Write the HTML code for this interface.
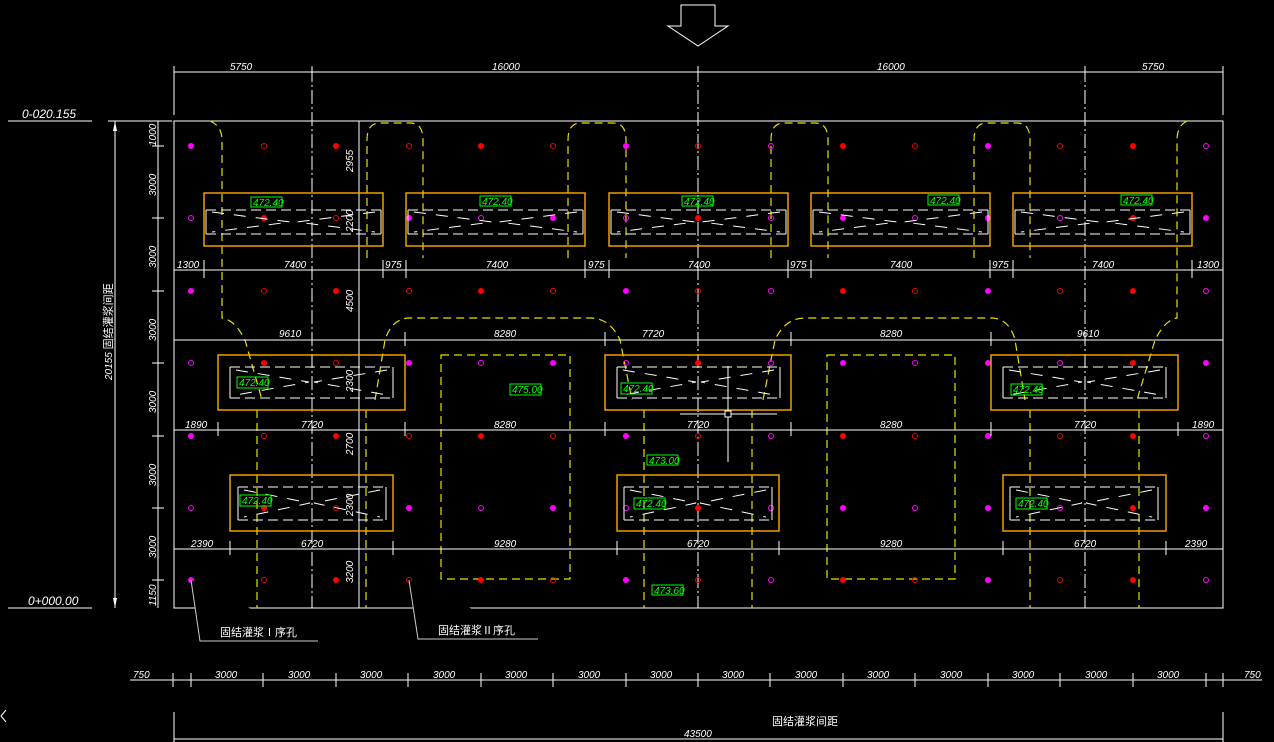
<!DOCTYPE html>
<html><head><meta charset="utf-8"><style>
html,body{margin:0;padding:0;background:#000;}
svg{display:block}
text{font-family:"Liberation Sans","Noto Sans CJK SC",sans-serif;font-style:italic;fill:#fff;font-size:10px}
.g{fill:#0f0;font-size:10px}
.cn{font-style:normal;font-size:11px}
</style></head><body>
<svg width="1274" height="742" viewBox="0 0 1274 742" xmlns="http://www.w3.org/2000/svg">
<defs>
<g id="dotrow">
<circle cx="191" r="3" fill="#f0f"/><circle cx="264" r="2.5" fill="none" stroke="#e00"/><circle cx="336" r="3" fill="#f00"/><circle cx="409" r="2.5" fill="none" stroke="#e00"/><circle cx="481" r="3" fill="#f00"/><circle cx="553" r="2.5" fill="none" stroke="#e00"/><circle cx="626" r="3" fill="#f0f"/><circle cx="698" r="2.5" fill="none" stroke="#e00"/><circle cx="771" r="2.5" fill="none" stroke="#f0f"/><circle cx="843" r="3" fill="#f00"/><circle cx="915" r="2.5" fill="none" stroke="#e00"/><circle cx="988" r="3" fill="#f0f"/><circle cx="1060" r="2.5" fill="none" stroke="#e00"/><circle cx="1133" r="3" fill="#f00"/><circle cx="1206" r="2.5" fill="none" stroke="#f0f"/>
</g>
<g id="dotrow2">
<circle cx="191" r="2.5" fill="none" stroke="#f0f"/><circle cx="264" r="3" fill="#f00"/><circle cx="336" r="2.5" fill="none" stroke="#e00"/><circle cx="409" r="3" fill="#f0f"/><circle cx="481" r="2.5" fill="none" stroke="#f0f"/><circle cx="553" r="3" fill="#f0f"/><circle cx="626" r="2.5" fill="none" stroke="#f0f"/><circle cx="698" r="3" fill="#f00"/><circle cx="771" r="2.5" fill="none" stroke="#f0f"/><circle cx="843" r="3" fill="#f0f"/><circle cx="915" r="2.5" fill="none" stroke="#f0f"/><circle cx="988" r="3" fill="#f0f"/><circle cx="1060" r="2.5" fill="none" stroke="#f0f"/><circle cx="1133" r="3" fill="#f00"/><circle cx="1206" r="3" fill="#f0f"/>
</g>
</defs>

<path d="M681 5 H715 V26 H728 L698 46 L668 26 H681 Z" fill="none" stroke="#fff"/>

<rect x="174" y="121" width="1049" height="487" fill="none" stroke="#fff"/>

<g stroke="#fff" stroke-dasharray="14 3 2 3" stroke-width="1">
<line x1="312" y1="68" x2="312" y2="608"/><line x1="698" y1="68" x2="698" y2="608"/><line x1="1085" y1="68" x2="1085" y2="608"/>
</g>
<line x1="359" y1="121" x2="359" y2="608" stroke="#fff"/>

<g stroke="#fff">
<line x1="174" y1="72" x2="1223" y2="72"/>
<line x1="174" y1="66" x2="174" y2="115"/><line x1="312" y1="66" x2="312" y2="78"/><line x1="698" y1="66" x2="698" y2="78"/><line x1="1085" y1="66" x2="1085" y2="78"/><line x1="1223" y1="66" x2="1223" y2="115"/>
</g>
<text x="230" y="70">5750</text><text x="492" y="70">16000</text><text x="877" y="70">16000</text><text x="1142" y="70">5750</text>

<text x="22" y="118" style="font-size:12px">0-020.155</text><line x1="8" y1="121" x2="92" y2="121" stroke="#fff"/>
<text x="28" y="605" style="font-size:12px">0+000.00</text><line x1="8" y1="608" x2="92" y2="608" stroke="#fff"/>
<line x1="115" y1="121" x2="115" y2="608" stroke="#fff"/>
<path d="M115 121 l-2 10 h4z M115 608 l-2 -10 h4z" fill="#fff"/>
<line x1="108" y1="121" x2="172" y2="121" stroke="#fff"/>
<text transform="translate(112 380) rotate(-90)">20155 <tspan class="cn">固结灌浆间距</tspan></text>
<g stroke="#fff">
<line x1="158" y1="121" x2="158" y2="608"/>
<line x1="152" y1="146" x2="164" y2="146"/><line x1="152" y1="218" x2="164" y2="218"/><line x1="152" y1="291" x2="164" y2="291"/><line x1="152" y1="363" x2="164" y2="363"/><line x1="152" y1="436" x2="164" y2="436"/><line x1="152" y1="508" x2="164" y2="508"/><line x1="152" y1="580" x2="164" y2="580"/>
</g>
<g font-size="9">
<text transform="translate(156 146) rotate(-90)">1000</text>
<text transform="translate(156 196) rotate(-90)">3000</text>
<text transform="translate(156 268) rotate(-90)">3000</text>
<text transform="translate(156 341) rotate(-90)">3000</text>
<text transform="translate(156 413) rotate(-90)">3000</text>
<text transform="translate(156 486) rotate(-90)">3000</text>
<text transform="translate(156 558) rotate(-90)">3000</text>
<text transform="translate(156 606) rotate(-90)">1150</text>
</g>

<g font-size="9">
<text transform="translate(353 172) rotate(-90)">2955</text>
<text transform="translate(353 232) rotate(-90)">2200</text>
<text transform="translate(353 312) rotate(-90)">4500</text>
<text transform="translate(353 392) rotate(-90)">2300</text>
<text transform="translate(353 455) rotate(-90)">2700</text>
<text transform="translate(353 516) rotate(-90)">2300</text>
<text transform="translate(353 583) rotate(-90)">3200</text>
</g>

<g stroke="#e8e000" fill="none" stroke-width="1.2" stroke-dasharray="8 5">
<path d="M210 121 Q222 126 222 140 V318 Q235 320 245 340 L262 400"/>
<path d="M367 258 V140 Q367 123 380 123 H410 Q423 123 423 140 V258"/>
<path d="M568 258 V140 Q568 123 581 123 H613 Q626 123 626 140 V258"/>
<path d="M771 258 V140 Q771 123 784 123 H815 Q828 123 828 140 V258"/>
<path d="M974 258 V140 Q974 123 987 123 H1017 Q1030 123 1030 140 V258"/>
<path d="M1187 121 Q1177 126 1177 140 V318 Q1165 320 1155 340 L1137 400"/>
<path d="M375 400 L385 340 Q392 318 410 318 H590 Q610 318 620 340 L632 400"/>
<path d="M763 400 L775 340 Q785 318 805 318 H993 Q1010 320 1015 340 L1025 400"/>
<path d="M257 410 V608"/><path d="M366 410 V608"/>
<path d="M644 410 V608"/><path d="M752 410 V608"/>
<path d="M1030 410 V608"/><path d="M1139 410 V608"/>
<rect x="441" y="355" width="129" height="224"/>
<rect x="827" y="355" width="128" height="224"/>
</g>

<use href="#dotrow" y="146"/>
<use href="#dotrow2" y="218"/>
<use href="#dotrow" y="291"/>
<use href="#dotrow2" y="363"/>
<use href="#dotrow" y="436"/>
<use href="#dotrow2" y="508"/>
<use href="#dotrow" y="580"/>

<g stroke="#ffaa00" fill="none" stroke-width="1.4">
<rect x="204" y="193" width="179" height="53"/><rect x="406" y="193" width="179" height="53"/><rect x="609" y="193" width="179" height="53"/><rect x="811" y="193" width="179" height="53"/><rect x="1013" y="193" width="179" height="53"/>
<rect x="218" y="355" width="187" height="55"/><rect x="605" y="355" width="186" height="55"/><rect x="991" y="355" width="187" height="55"/>
<rect x="230" y="475" width="163" height="56"/><rect x="617" y="475" width="162" height="56"/><rect x="1003" y="475" width="163" height="56"/>
</g>
<g stroke="#fff" fill="none" stroke-width="1">
<g stroke-dasharray="10 5">
<line x1="206" y1="210" x2="381" y2="210"/><line x1="206" y1="234" x2="381" y2="234"/>
<line x1="408" y1="210" x2="583" y2="210"/><line x1="408" y1="234" x2="583" y2="234"/>
<line x1="611" y1="210" x2="786" y2="210"/><line x1="611" y1="234" x2="786" y2="234"/>
<line x1="813" y1="210" x2="988" y2="210"/><line x1="813" y1="234" x2="988" y2="234"/>
<line x1="1015" y1="210" x2="1190" y2="210"/><line x1="1015" y1="234" x2="1190" y2="234"/>
<line x1="230" y1="367" x2="393" y2="367"/><line x1="230" y1="398" x2="393" y2="398"/>
<line x1="617" y1="367" x2="780" y2="367"/><line x1="617" y1="398" x2="780" y2="398"/>
<line x1="1003" y1="367" x2="1166" y2="367"/><line x1="1003" y1="398" x2="1166" y2="398"/>
<line x1="238" y1="487" x2="386" y2="487"/><line x1="238" y1="520" x2="386" y2="520"/>
<line x1="624" y1="487" x2="772" y2="487"/><line x1="624" y1="520" x2="772" y2="520"/>
<line x1="1010" y1="487" x2="1158" y2="487"/><line x1="1010" y1="520" x2="1158" y2="520"/>
</g>
<path d="M206 210v24M381 210v24M408 210v24M583 210v24M611 210v24M786 210v24M813 210v24M988 210v24M1015 210v24M1190 210v24"/>
<path d="M230 367v31M393 367v31M617 367v31M780 367v31M1003 367v31M1166 367v31"/>
<path d="M238 487v33M386 487v33M624 487v33M772 487v33M1010 487v33M1158 487v33"/>
<g stroke-dasharray="12 10">
<path d="M212 212 L290 222 L212 232 M375 212 L297 222 L375 232"/>
<path d="M414 212 L492 222 L414 232 M577 212 L499 222 L577 232"/>
<path d="M617 212 L695 222 L617 232 M780 212 L702 222 L780 232"/>
<path d="M819 212 L897 222 L819 232 M982 212 L904 222 L982 232"/>
<path d="M1021 212 L1099 222 L1021 232 M1184 212 L1106 222 L1184 232"/>
<path d="M236 370 L309 382 L236 395 M387 370 L314 382 L387 395"/>
<path d="M623 370 L696 382 L623 395 M774 370 L701 382 L774 395"/>
<path d="M1009 370 L1082 382 L1009 395 M1160 370 L1087 382 L1160 395"/>
<path d="M244 490 L310 503 L244 517 M380 490 L314 503 L380 517"/>
<path d="M630 490 L696 503 L630 517 M766 490 L700 503 L766 517"/>
<path d="M1016 490 L1082 503 L1016 517 M1152 490 L1086 503 L1152 517"/>
</g>
</g>

<g stroke="#0f0" fill="none">
<rect x="251" y="197" width="31" height="10"/><rect x="480" y="196" width="31" height="10"/><rect x="682" y="196" width="31" height="10"/><rect x="928" y="195" width="31" height="10"/><rect x="1121" y="195" width="31" height="10"/>
<rect x="237" y="377" width="31" height="11"/><rect x="510" y="384" width="31" height="11"/><rect x="621" y="383" width="31" height="11"/><rect x="1011" y="384" width="31" height="11"/>
<rect x="240" y="495" width="31" height="11"/><rect x="634" y="498" width="31" height="11"/><rect x="1016" y="498" width="31" height="11"/>
<rect x="647" y="455" width="31" height="10"/><rect x="652" y="585" width="31" height="10"/>
</g>
<g class="g" font-size="9">
<text class="g" x="253" y="206">472.40</text><text class="g" x="482" y="205">472.40</text><text class="g" x="684" y="205">472.40</text><text class="g" x="930" y="204">472.40</text><text class="g" x="1123" y="204">472.40</text>
<text class="g" x="239" y="386">472.40</text><text class="g" x="512" y="393">475.00</text><text class="g" x="623" y="392">472.40</text><text class="g" x="1013" y="393">472.40</text>
<text class="g" x="242" y="504">472.40</text><text class="g" x="636" y="507">472.40</text><text class="g" x="1018" y="507">472.40</text>
<text class="g" x="649" y="464">473.00</text><text class="g" x="654" y="594">473.60</text>
</g>

<g stroke="#fff">
<line x1="174" y1="270" x2="1223" y2="270"/>
<line x1="174" y1="340" x2="1223" y2="340"/>
<line x1="174" y1="430" x2="1223" y2="430"/>
<line x1="174" y1="549" x2="1223" y2="549"/>
<path d="M204 260v18M383 260v18M406 260v18M585 260v18M609 260v18M788 260v18M811 260v18M990 260v18M1013 260v18M1192 260v18"/>
<path d="M405 332v14M605 332v14M791 332v14M991 332v14"/>
<path d="M218 422v14M405 422v14M605 422v14M791 422v14M991 422v14M1178 422v14"/>
<path d="M230 541v14M393 541v14M617 541v14M779 541v14M1003 541v14M1166 541v14"/>
</g>
<text x="177" y="268">1300</text><text x="284" y="268">7400</text><text x="385" y="268">975</text><text x="486" y="268">7400</text><text x="588" y="268">975</text><text x="688" y="268">7400</text><text x="790" y="268">975</text><text x="890" y="268">7400</text><text x="992" y="268">975</text><text x="1092" y="268">7400</text><text x="1197" y="268">1300</text>
<text x="279" y="337">9610</text><text x="494" y="337">8280</text><text x="642" y="337">7720</text><text x="880" y="337">8280</text><text x="1077" y="337">9610</text>
<text x="185" y="428">1890</text><text x="301" y="428">7720</text><text x="494" y="428">8280</text><text x="687" y="428">7720</text><text x="880" y="428">8280</text><text x="1074" y="428">7720</text><text x="1192" y="428">1890</text>
<text x="191" y="547">2390</text><text x="301" y="547">6720</text><text x="494" y="547">9280</text><text x="687" y="547">6720</text><text x="880" y="547">9280</text><text x="1074" y="547">6720</text><text x="1185" y="547">2390</text>

<g stroke="#fff"><line x1="680" y1="414" x2="777" y2="414"/><line x1="728" y1="366" x2="728" y2="462"/></g>
<rect x="725" y="411" width="6" height="6" fill="#000" stroke="#fff"/>

<g stroke="#ccc"><path d="M191 580 L200 641 H318"/><path d="M409 580 L418 639 H538"/></g>
<text class="cn" x="220" y="636">固结灌浆Ⅰ序孔</text>
<text class="cn" x="438" y="634">固结灌浆Ⅱ序孔</text>

<g stroke="#fff">
<line x1="130" y1="680" x2="1262" y2="680"/>
<path d="M173 673v14M191 673v14M263 673v14M336 673v14M408 673v14M481 673v14M553 673v14M626 673v14M698 673v14M770 673v14M843 673v14M915 673v14M988 673v14M1060 673v14M1133 673v14M1206 673v14M1223 673v14"/>
<line x1="174" y1="712" x2="174" y2="742"/><line x1="1223" y1="712" x2="1223" y2="742"/>
<line x1="174" y1="739" x2="1223" y2="739"/>
</g>
<text x="133" y="678">750</text>
<text x="215" y="678">3000</text><text x="288" y="678">3000</text><text x="360" y="678">3000</text><text x="433" y="678">3000</text><text x="505" y="678">3000</text><text x="578" y="678">3000</text><text x="650" y="678">3000</text><text x="722" y="678">3000</text><text x="795" y="678">3000</text><text x="867" y="678">3000</text><text x="940" y="678">3000</text><text x="1012" y="678">3000</text><text x="1085" y="678">3000</text><text x="1157" y="678">3000</text>
<text x="1244" y="678">750</text>
<text class="cn" x="772" y="725">固结灌浆间距</text>
<text x="684" y="737">43500</text>
<path d="M6 710 L1 716 L6 722" stroke="#fff" fill="none"/>
</svg>
</body></html>
